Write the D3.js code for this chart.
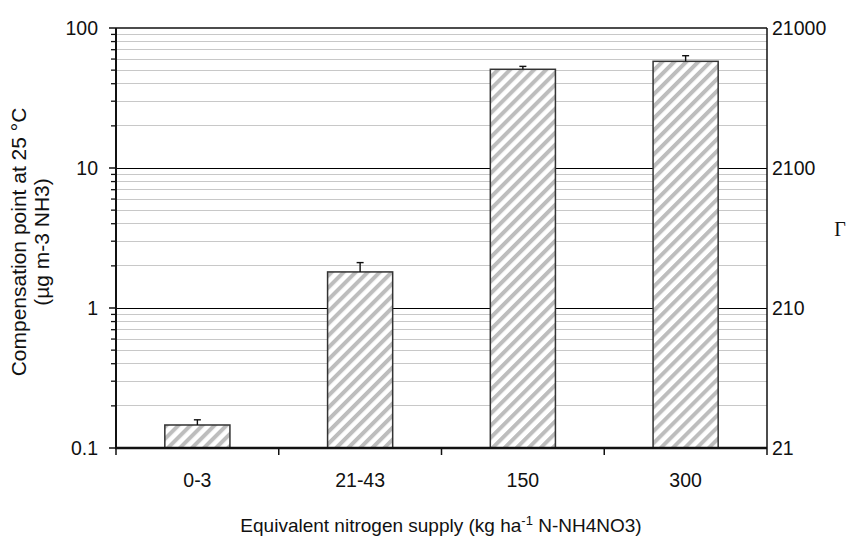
<!DOCTYPE html>
<html>
<head>
<meta charset="utf-8">
<script src="https://cdn.jsdelivr.net/npm/d3@7"></script>
<style>
  body { margin: 0; background: #fff; }
  svg { display: block; font-family: "Liberation Sans", Arial, sans-serif; }
</style>
</head>
<body>
<svg id="chart" width="850" height="541"></svg>
<script>
// Nitrogen supply classes and measured compensation points
const categories = ["0-3", "21-43", "150", "300"];
const compensation = [0.146, 1.81, 50.7, 57.8];
const errorUpper = [0.159, 2.11, 53.2, 63.4];
const leftTicks = [0.1, 1, 10, 100];
const leftTickLabels = ["0.1", "1", "10", "100"];
const rightTickLabels = ["21", "210", "2100", "21000"];

const svg = d3.select("#chart");
const margin = { left: 116, right: 83, top: 28, bottom: 93 };
const W = 850, H = 541;
const x0 = margin.left, x1 = W - margin.right;
const y0 = margin.top, y1 = H - margin.bottom;
const fs = 19.5;

const x = d3.scaleBand().domain(categories).range([x0, x1]).paddingInner(0.6).paddingOuter(0.3);
const xEdge = d3.scaleLinear().domain([0, categories.length]).range([x0, x1]);
const y = d3.scaleLog().domain([0.1, 100]).range([y1, y0]);

// hatch pattern for bars
const defs = svg.append("defs");
const blur = defs.append("filter").attr("id", "soft");
blur.append("feGaussianBlur").attr("stdDeviation", 0.6);
const pat = defs.append("pattern")
  .attr("id", "hatch").attr("patternUnits", "userSpaceOnUse")
  .attr("width", 8.5).attr("height", 8.5)
  .attr("patternTransform", "rotate(45)");
pat.append("rect").attr("width", 8.5).attr("height", 8.5).attr("fill", "#ffffff");
pat.append("rect").attr("x", 0).attr("width", 4).attr("height", 8.5).attr("fill", "#bdbdbd");

// minor gridlines
const minor = [];
for (let dec = 0.1; dec < 100; dec *= 10) {
  for (let k = 2; k <= 9; k++) minor.push(dec * k);
}
svg.append("g").selectAll("line").data(minor).join("line")
  .attr("x1", x0).attr("x2", x1)
  .attr("y1", d => y(d)).attr("y2", d => y(d))
  .attr("stroke", "#c8c8c8").attr("stroke-width", 1)
  .attr("shape-rendering", "crispEdges");

// major gridlines
svg.append("g").selectAll("line").data([1, 10]).join("line")
  .attr("x1", x0).attr("x2", x1)
  .attr("y1", d => y(d)).attr("y2", d => y(d))
  .attr("stroke", "#000").attr("stroke-width", 1)
  .attr("shape-rendering", "crispEdges");

// bars
const bars = svg.append("g");
bars.selectAll("rect.fill").data(categories).join("rect").attr("class", "fill")
  .attr("x", d => x(d))
  .attr("width", x.bandwidth())
  .attr("y", (d, i) => y(compensation[i]))
  .attr("height", (d, i) => y1 - y(compensation[i]))
  .attr("fill", "url(#hatch)")
  .attr("filter", "url(#soft)");
bars.selectAll("rect.edge").data(categories).join("rect").attr("class", "edge")
  .attr("x", d => x(d))
  .attr("width", x.bandwidth())
  .attr("y", (d, i) => y(compensation[i]))
  .attr("height", (d, i) => y1 - y(compensation[i]))
  .attr("fill", "none")
  .attr("stroke", "#333").attr("stroke-width", 1.5);

// upper error bars
const eb = svg.append("g").attr("stroke", "#111").attr("stroke-width", 1.4);
categories.forEach((c, i) => {
  const cx = x(c) + x.bandwidth() / 2;
  eb.append("line").attr("x1", cx).attr("x2", cx)
    .attr("y1", y(compensation[i])).attr("y2", y(errorUpper[i]));
  eb.append("line").attr("x1", cx - 3.5).attr("x2", cx + 3.5)
    .attr("y1", y(errorUpper[i])).attr("y2", y(errorUpper[i]));
});

// frame: top and right
svg.append("line").attr("x1", x0).attr("x2", x1).attr("y1", y0).attr("y2", y0)
  .attr("stroke", "#111").attr("stroke-width", 1.5);
svg.append("line").attr("x1", x1).attr("x2", x1).attr("y1", y0).attr("y2", y1)
  .attr("stroke", "#111").attr("stroke-width", 1.5);

// left axis with minor ticks
const left = svg.append("g");
left.append("line").attr("x1", x0).attr("x2", x0).attr("y1", y0).attr("y2", y1)
  .attr("stroke", "#111").attr("stroke-width", 2);
left.selectAll("line.minor").data(minor).join("line").attr("class", "minor")
  .attr("x1", x0 - 5).attr("x2", x0)
  .attr("y1", d => y(d)).attr("y2", d => y(d))
  .attr("stroke", "#111").attr("stroke-width", 1.3);
left.selectAll("line.major").data(leftTicks).join("line").attr("class", "major")
  .attr("x1", x0 - 7).attr("x2", x0)
  .attr("y1", d => y(d)).attr("y2", d => y(d))
  .attr("stroke", "#111").attr("stroke-width", 1.5);
left.selectAll("text").data(leftTicks).join("text")
  .attr("x", x0 - 18).attr("y", d => y(d)).attr("dy", "0.35em")
  .attr("text-anchor", "end").attr("font-size", fs).attr("fill", "#111")
  .text((d, i) => leftTickLabels[i]);

// right axis labels
svg.append("g").selectAll("text").data(leftTicks).join("text")
  .attr("x", x1 + 5).attr("y", d => y(d)).attr("dy", "0.35em")
  .attr("text-anchor", "start").attr("font-size", fs).attr("fill", "#111")
  .text((d, i) => rightTickLabels[i]);

// bottom axis
const bottom = svg.append("g");
bottom.append("line").attr("x1", x0 - 1).attr("x2", x1).attr("y1", y1).attr("y2", y1)
  .attr("stroke", "#111").attr("stroke-width", 2.5);
bottom.selectAll("line.tick").data(d3.range(categories.length + 1)).join("line").attr("class", "tick")
  .attr("x1", d => xEdge(d)).attr("x2", d => xEdge(d))
  .attr("y1", y1).attr("y2", y1 + 7)
  .attr("stroke", "#111").attr("stroke-width", 1.5);
bottom.selectAll("text").data(categories).join("text")
  .attr("x", d => x(d) + x.bandwidth() / 2).attr("y", y1 + 39)
  .attr("text-anchor", "middle").attr("font-size", fs).attr("fill", "#111")
  .text(d => d);

// axis titles
const xt = svg.append("text").attr("x", 441).attr("y", 532)
  .attr("text-anchor", "middle").attr("font-size", 19).attr("fill", "#111");
xt.append("tspan").text("Equivalent nitrogen supply (kg ha");
xt.append("tspan").attr("dy", -7).attr("font-size", 13).text("-1");
xt.append("tspan").attr("dy", 7).text(" N-NH4NO3)");

const yt = svg.append("text").attr("transform", `translate(26,${242}) rotate(-90)`)
  .attr("text-anchor", "middle").attr("font-size", 21).attr("fill", "#111");
yt.append("tspan").attr("x", 0).attr("dy", 0).text("Compensation point at 25 °C");
yt.append("tspan").attr("x", 0).attr("dy", 23).text("(µg m-3 NH3)");

svg.append("text").attr("x", 840).attr("y", 236).attr("text-anchor", "middle")
  .attr("font-family", "'Liberation Serif', 'Times New Roman', serif")
  .attr("font-size", 20).attr("fill", "#111").text("Γ");
</script>
</body>
</html>
